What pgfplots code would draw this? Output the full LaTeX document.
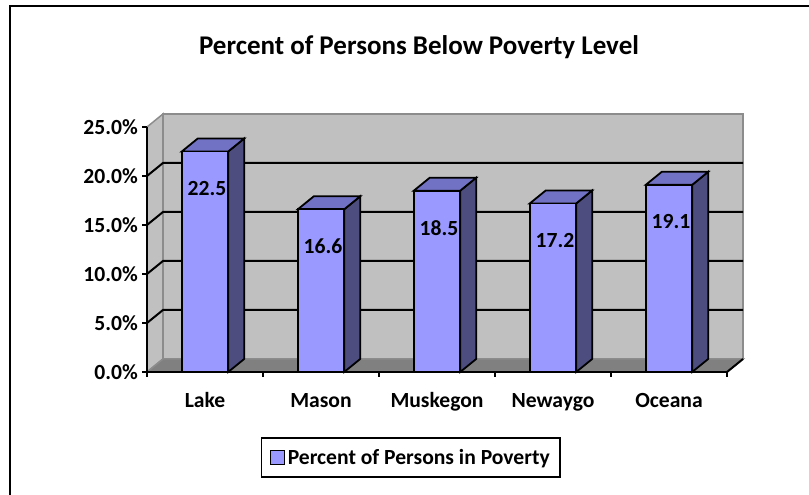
\documentclass[border=0pt]{standalone}
\usepackage{fontspec}
\setmainfont{Carlito}
\usepackage{pgfplots}
\pgfplotsset{compat=1.18}
\usepackage{pgfplotstable}
\definecolor{barfront}{HTML}{9999FF}
\definecolor{bartop}{HTML}{7272C4}
\definecolor{barside}{HTML}{4D4D80}
\definecolor{wall}{HTML}{C0C0C0}
\definecolor{floorc}{HTML}{808080}
\definecolor{edge}{HTML}{8C8C8C}
\newcommand\lbl{\fontsize{21.6bp}{25bp}\selectfont\bfseries}
\newcommand\ttl{\fontsize{27bp}{31bp}\selectfont\bfseries}
\pgfplotstableread{
x v
0.5 22.5
1.5 16.6
2.5 18.5
3.5 17.2
4.5 19.1
}\povdata
\begin{document}
\begin{tikzpicture}
\useasboundingbox (0,0) rectangle (809bp,495bp);
\draw[line width=2bp] (10bp,0) -- (10bp,488.5bp) -- (809bp,488.5bp);
\begin{axis}[
  at={(147bp,123bp)}, anchor=south west,
  x=116bp, y=9.8bp,
  xmin=0, xmax=5, ymin=0, ymax=25,
  clip=false, axis on top,
  axis lines=left, axis line style={-, line width=2bp, black},
  xtick={0,...,5}, xticklabels={Lake,Mason,Muskegon,Newaygo,Oceana},
  x tick label as interval,
  ytick={0,5,...,25}, yticklabels={0.0\%,5.0\%,10.0\%,15.0\%,20.0\%,25.0\%},
  tick align=outside, major tick length=5bp, tick style={line width=2bp, black},
  ticklabel style={font=\lbl},
  xticklabel style={anchor=base, inner sep=0pt, yshift=-31bp},
  yticklabel style={anchor=east, inner sep=0pt, xshift=-4bp},
  /pgf/number format/assume math mode=true,
  title={Percent of Persons Below Poverty Level},
  title style={at={(0.469,1.2735)}, anchor=base, font=\ttl},
  legend style={at={(0.455,-0.349)}, anchor=center, draw=black, line width=1.8bp,
    font=\lbl, inner xsep=8bp, inner ysep=8bp, nodes={inner xsep=2.5bp, inner ysep=3bp}},
]
% left and back walls
\addplot[forget plot, fill=wall, draw=edge, line width=1.5bp] coordinates {(0,0) (0.138,1.33) (0.138,26.33) (0,25)} -- cycle;
\addplot[forget plot, fill=wall, draw=edge, line width=1.5bp] coordinates {(0.138,1.33) (5.138,1.33) (5.138,26.33) (0.138,26.33)} -- cycle;
% floor
\addplot[forget plot, fill=floorc, draw=edge, line width=1.5bp] coordinates {(0,0) (5,0) (5.138,1.33) (0.138,1.33)} -- cycle;
\addplot[forget plot, black, line width=2bp] coordinates {(5,0) (5.138,1.33)};
% gridlines
\addplot[forget plot, black, line width=2bp] coordinates {(0,5) (0.138,6.33) (5.138,6.33)};
\addplot[forget plot, black, line width=2bp] coordinates {(0,10) (0.138,11.33) (5.138,11.33)};
\addplot[forget plot, black, line width=2bp] coordinates {(0,15) (0.138,16.33) (5.138,16.33)};
\addplot[forget plot, black, line width=2bp] coordinates {(0,20) (0.138,21.33) (5.138,21.33)};
% bar sides and tops
\addplot[forget plot, fill=barside, draw=black, line width=1.8bp] coordinates {(0.7,0) (0.838,1.33) (0.838,23.83) (0.7,22.5)} -- cycle;
\addplot[forget plot, fill=bartop, draw=black, line width=1.8bp] coordinates {(0.3,22.5) (0.7,22.5) (0.838,23.83) (0.438,23.83)} -- cycle;
\addplot[forget plot, fill=barside, draw=black, line width=1.8bp] coordinates {(1.7,0) (1.838,1.33) (1.838,17.93) (1.7,16.6)} -- cycle;
\addplot[forget plot, fill=bartop, draw=black, line width=1.8bp] coordinates {(1.3,16.6) (1.7,16.6) (1.838,17.93) (1.438,17.93)} -- cycle;
\addplot[forget plot, fill=barside, draw=black, line width=1.8bp] coordinates {(2.7,0) (2.838,1.33) (2.838,19.83) (2.7,18.5)} -- cycle;
\addplot[forget plot, fill=bartop, draw=black, line width=1.8bp] coordinates {(2.3,18.5) (2.7,18.5) (2.838,19.83) (2.438,19.83)} -- cycle;
\addplot[forget plot, fill=barside, draw=black, line width=1.8bp] coordinates {(3.7,0) (3.838,1.33) (3.838,18.53) (3.7,17.2)} -- cycle;
\addplot[forget plot, fill=bartop, draw=black, line width=1.8bp] coordinates {(3.3,17.2) (3.7,17.2) (3.838,18.53) (3.438,18.53)} -- cycle;
\addplot[forget plot, fill=barside, draw=black, line width=1.8bp] coordinates {(4.7,0) (4.838,1.33) (4.838,20.43) (4.7,19.1)} -- cycle;
\addplot[forget plot, fill=bartop, draw=black, line width=1.8bp] coordinates {(4.3,19.1) (4.7,19.1) (4.838,20.43) (4.438,20.43)} -- cycle;
% front faces
\addplot[ybar, bar width=0.4, fill=barfront, draw=black, line width=1.8bp,
  nodes near coords={\pgfmathprintnumber[fixed,fixed zerofill,precision=1]{\pgfplotspointmeta}},
  nodes near coords style={anchor=center, yshift=-37bp, xshift=2bp, font=\lbl, text=black},
  legend image code/.code={\draw[fill=barfront, draw=black, line width=1.8bp] (0bp,-7bp) rectangle (14bp,7bp);}]
  table[x=x, y=v] {\povdata};
\addlegendentry{Percent of Persons in Poverty}
\end{axis}
\end{tikzpicture}
\end{document}
